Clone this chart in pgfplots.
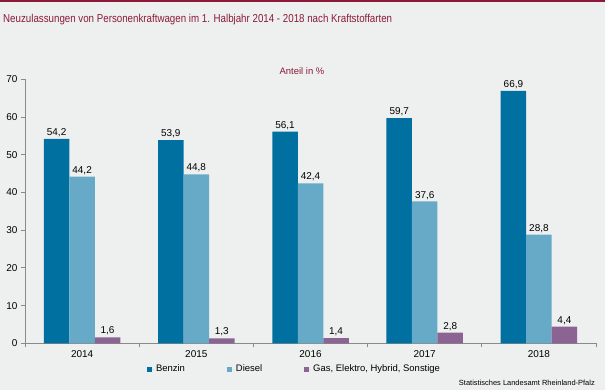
\documentclass[border=0pt]{standalone}
\usepackage{pgfplots}
\pgfplotsset{compat=1.18}
\usepackage{fontspec}
\setmainfont{Liberation Sans}
\definecolor{bg}{HTML}{EEF0EF}
\definecolor{benzin}{HTML}{0070A0}
\definecolor{diesel}{HTML}{67AAC8}
\definecolor{gas}{HTML}{8C6494}
\definecolor{dred}{HTML}{8B1A3A}
\definecolor{axgray}{HTML}{8A8A8A}
\begin{document}
\begin{tikzpicture}[x=1bp,y=1bp]
\fill[bg] (0,0) rectangle (605,390);
\fill[dred] (0,388) rectangle (605,390);
\node[anchor=west, text=dred, font=\fontsize{11.5}{13}\selectfont, inner sep=0] at (3,370) {\resizebox{389bp}{\height}{Neuzulassungen von Personenkraftwagen im 1. Halbjahr 2014 - 2018 nach Kraftstoffarten}};
\node[text=dred, font=\fontsize{9.5}{10}\selectfont, inner sep=0] at (302,319) {Anteil in \%};
\node[anchor=east, font=\fontsize{7.5}{9}\selectfont, inner sep=0] at (595,7) {Statistisches Landesamt Rheinland-Pfalz};
\begin{axis}[
  at={(25bp,46.7bp)}, anchor=south west,
  scale only axis, width=571bp, height=264bp,
  xmin=-0.5, xmax=4.5, ymin=0, ymax=70,
  ybar=0pt, bar width=25.5bp,
  axis x line*=bottom, axis y line*=left,
  axis line style={draw=axgray, line width=0.8pt},
  xtick={0,1,2,3,4}, xticklabels={2014,2015,2016,2017,2018},
  xtick style={draw=none},
  extra x ticks={-0.5,0.5,1.5,2.5,3.5,4.5}, extra x tick labels={},
  extra x tick style={xtick style={draw=axgray, line width=0.8pt}, tick align=outside, major tick length=4bp},
  ytick={0,10,...,70},
  ytick style={draw=axgray, line width=0.8pt},
  tick align=outside, major tick length=4bp,
  ticklabel style={font=\fontsize{10}{11}\selectfont},
  /pgf/number format/assume math mode=true,
  nodes near coords={\pgfmathprintnumber[use comma,fixed,fixed zerofill,precision=1,assume math mode=true]{\pgfplotspointmeta}},
  every node near coord/.append style={font=\fontsize{10}{11}\selectfont, text=black, inner sep=2bp},
  legend style={at={(0.472,-0.098)}, anchor=center, draw=none, fill=none, legend columns=-1,
    font=\fontsize{9.5}{10}\selectfont, /tikz/every even column/.append style={column sep=40bp}},
  legend image code/.code={\path[#1, draw=none] (0bp,-2.5bp) rectangle (5bp,2.5bp); \path (0bp,0bp) -- (7bp,0bp);},
]
\addplot[fill=benzin, draw=none] coordinates {(0,54.2) (1,53.9) (2,56.1) (3,59.7) (4,66.9)};
\addplot[fill=diesel, draw=none] coordinates {(0,44.2) (1,44.8) (2,42.4) (3,37.6) (4,28.8)};
\addplot[fill=gas, draw=none] coordinates {(0,1.6) (1,1.3) (2,1.4) (3,2.8) (4,4.4)};
\legend{Benzin, Diesel, {Gas, Elektro, Hybrid, Sonstige}}
\end{axis}
\end{tikzpicture}
\end{document}
